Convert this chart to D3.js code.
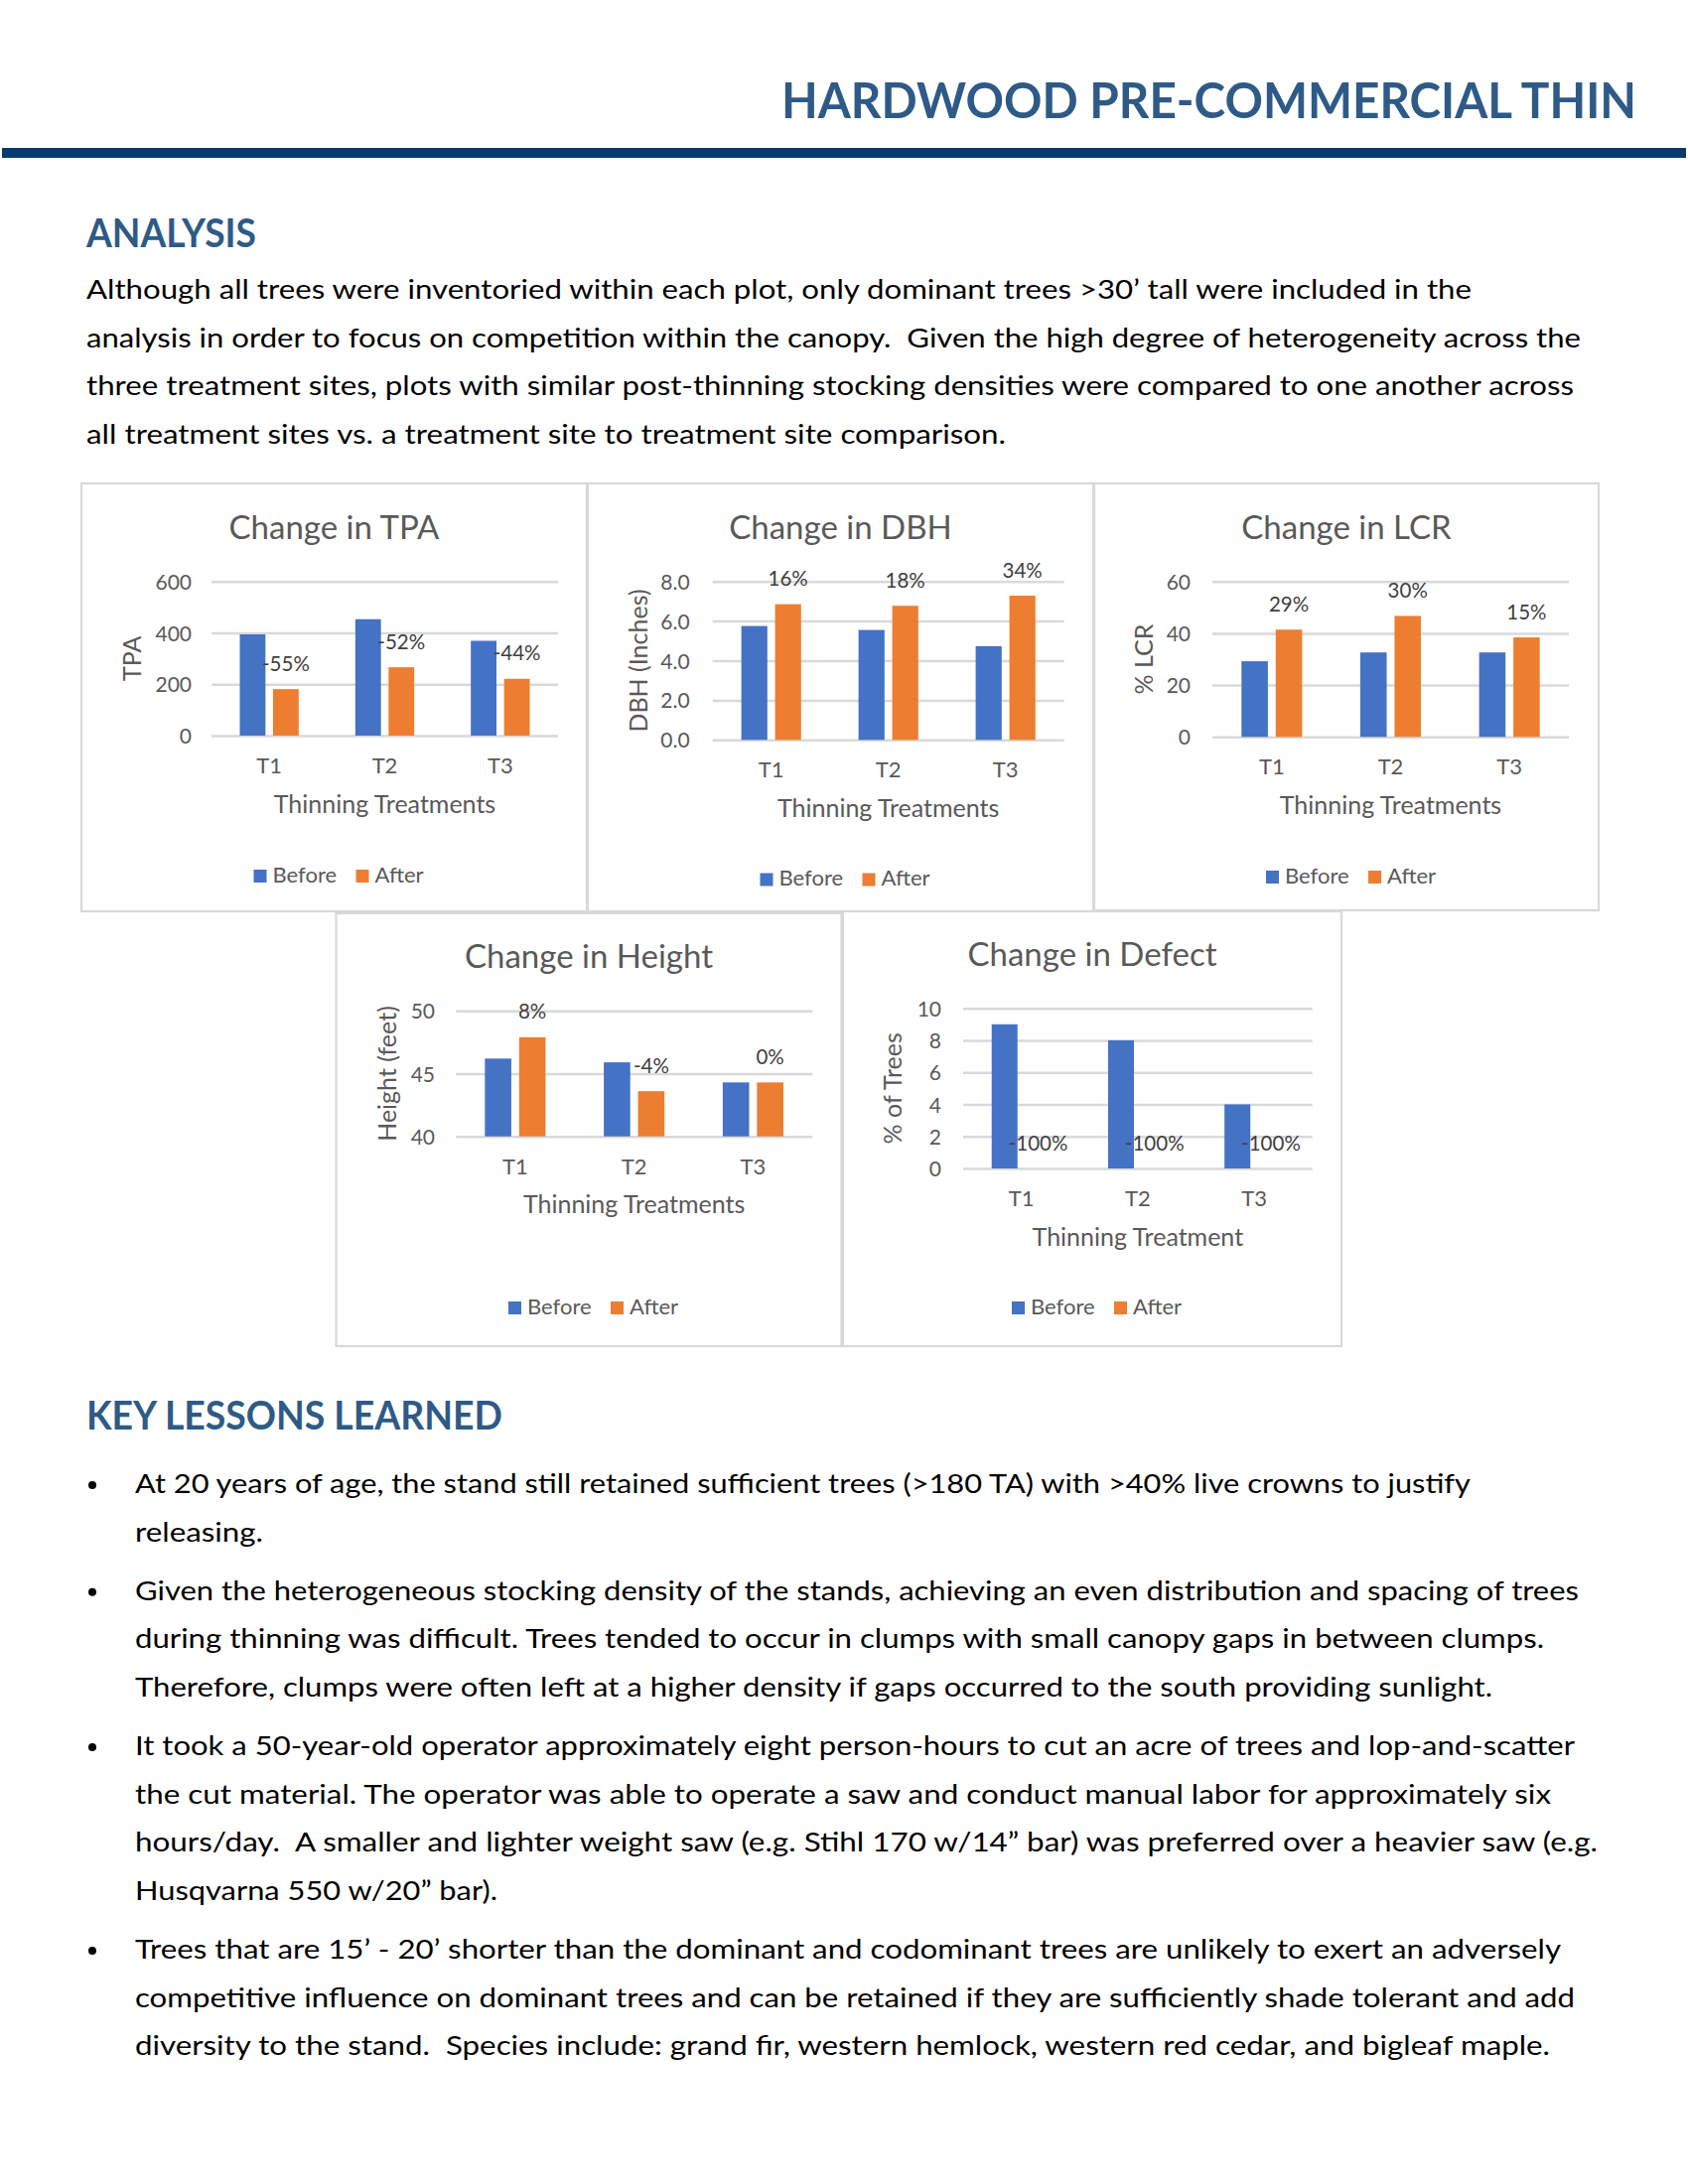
<!DOCTYPE html>
<html>
<head>
<meta charset="utf-8">
<script src="https://cdn.jsdelivr.net/npm/d3@7"></script>
<style>
  html, body { margin: 0; padding: 0; background: #fff; }
  svg { display: block; }
</style>
</head>
<body>
<div id="page"></div>
<script>
// ---------------- DATA ----------------
const categories = ["T1", "T2", "T3"];
const seriesNames = ["Before", "After"];

const tpaBefore = [394, 453, 369];
const tpaAfter = [181, 266, 221];
const tpaLabels = ["-55%", "-52%", "-44%"];
const tpaTicks = [0, 200, 400, 600];

const dbhBefore = [5.75, 5.55, 4.73];
const dbhAfter = [6.85, 6.77, 7.28];
const dbhLabels = ["16%", "18%", "34%"];
const dbhTicks = [0, 2, 4, 6, 8];

const lcrBefore = [29.2, 32.6, 32.6];
const lcrAfter = [41.4, 46.7, 38.4];
const lcrLabels = ["29%", "30%", "15%"];
const lcrTicks = [0, 20, 40, 60];

const heightBefore = [46.2, 45.9, 44.3];
const heightAfter = [47.9, 43.6, 44.3];
const heightLabels = ["8%", "-4%", "0%"];
const heightTicks = [40, 45, 50];

const defectBefore = [9, 8, 4];
const defectAfter = [0, 0, 0];
const defectLabels = ["-100%", "-100%", "-100%"];
const defectTicks = [0, 2, 4, 6, 8, 10];

const pageTitle = "HARDWOOD PRE-COMMERCIAL THIN";
const analysisHeading = "ANALYSIS";
const analysisLines = [
  "Although all trees were inventoried within each plot, only dominant trees >30’ tall were included in the",
  "analysis in order to focus on competition within the canopy.  Given the high degree of heterogeneity across the",
  "three treatment sites, plots with similar post-thinning stocking densities were compared to one another across",
  "all treatment sites vs. a treatment site to treatment site comparison."
];
const lessonsHeading = "KEY LESSONS LEARNED";
const lessons = [
  ["At 20 years of age, the stand still retained sufficient trees (>180 TA) with >40% live crowns to justify",
   "releasing."],
  ["Given the heterogeneous stocking density of the stands, achieving an even distribution and spacing of trees",
   "during thinning was difficult. Trees tended to occur in clumps with small canopy gaps in between clumps.",
   "Therefore, clumps were often left at a higher density if gaps occurred to the south providing sunlight."],
  ["It took a 50-year-old operator approximately eight person-hours to cut an acre of trees and lop-and-scatter",
   "the cut material. The operator was able to operate a saw and conduct manual labor for approximately six",
   "hours/day.  A smaller and lighter weight saw (e.g. Stihl 170 w/14” bar) was preferred over a heavier saw (e.g.",
   "Husqvarna 550 w/20” bar)."],
  ["Trees that are 15’ - 20’ shorter than the dominant and codominant trees are unlikely to exert an adversely",
   "competitive influence on dominant trees and can be retained if they are sufficiently shade tolerant and add",
   "diversity to the stand.  Species include: grand fir, western hemlock, western red cedar, and bigleaf maple."]
];

// ---------------- LAYOUT ----------------
const W = 1700, H = 2200;
const BLUE = "#4472C4", ORANGE = "#ED7D31";
const HEAD = "#2E5A87", RULE = "#083B6D";
const TXT = "#595959", LBL = "#404040", GRID = "#D9D9D9";
const FONT = "Lato, 'Open Sans', sans-serif";

const analysisWidths = [1395, 1505, 1498, 926];
const lessonsWidths = [[1345, 129], [1454, 1419, 1367], [1450, 1426, 1473, 365], [1436, 1450, 1425]];

const charts = [
  { title: "Change in TPA", yTitle: "TPA", xTitle: "Thinning Treatments",
    before: tpaBefore, after: tpaAfter, labels: tpaLabels, ticks: tpaTicks, domain: [0, 600], fmt: d3.format("d"),
    panel: { x: 82, y: 487, w: 509, h: 431 }, plot: { x0: 213, x1: 562, y0: 585.7, y1: 741 },
    tickPad: 20, yTitleX: 133, legendY: 876 },
  { title: "Change in DBH", yTitle: "DBH (Inches)", xTitle: "Thinning Treatments",
    before: dbhBefore, after: dbhAfter, labels: dbhLabels, ticks: dbhTicks, domain: [0, 8], fmt: d3.format(".1f"),
    panel: { x: 592, y: 487, w: 509, h: 431 }, plot: { x0: 717.7, x1: 1071.7, y0: 585.7, y1: 745.3 },
    tickPad: 23, yTitleX: 643, legendY: 879.5 },
  { title: "Change in LCR", yTitle: "% LCR", xTitle: "Thinning Treatments",
    before: lcrBefore, after: lcrAfter, labels: lcrLabels, ticks: lcrTicks, domain: [0, 60], fmt: d3.format("d"),
    panel: { x: 1102, y: 487, w: 508, h: 430 }, plot: { x0: 1221, x1: 1580, y0: 585.7, y1: 742.3 },
    tickPad: 22, yTitleX: 1152, legendY: 877 },
  { title: "Change in Height", yTitle: "Height (feet)", xTitle: "Thinning Treatments",
    before: heightBefore, after: heightAfter, labels: heightLabels, ticks: heightTicks, domain: [40, 50], fmt: d3.format("d"),
    panel: { x: 338.5, y: 920, w: 509, h: 436 }, plot: { x0: 459, x1: 818.3, y0: 1018.3, y1: 1144.7 },
    tickPad: 21, yTitleX: 390, legendY: 1311 },
  { title: "Change in Defect", yTitle: "% of Trees", xTitle: "Thinning Treatment",
    before: defectBefore, after: defectAfter, labels: defectLabels, ticks: defectTicks, domain: [0, 10], fmt: d3.format("d"),
    panel: { x: 849, y: 918, w: 502, h: 438 }, plot: { x0: 970, x1: 1321.7, y0: 1015.7, y1: 1177 },
    tickPad: 22, yTitleX: 899, legendY: 1311 }
];

// ---------------- DRAW ----------------
const svg = d3.select("#page").append("svg")
  .attr("width", W).attr("height", H).attr("viewBox", `0 0 ${W} ${H}`)
  .style("font-family", FONT);

svg.append("rect").attr("width", W).attr("height", H).attr("fill", "#fff");

// Header
svg.append("text")
  .attr("x", 1648).attr("y", 118.5).attr("text-anchor", "end")
  .attr("fill", HEAD).attr("font-weight", 700).attr("font-size", 50)
  .attr("textLength", 861).attr("lengthAdjust", "spacingAndGlyphs")
  .text(pageTitle);
svg.append("rect").attr("x", 2).attr("y", 149).attr("width", 1696).attr("height", 10).attr("fill", RULE);

// Analysis heading + text
svg.append("text")
  .attr("x", 87).attr("y", 249).attr("fill", HEAD).attr("font-weight", 700).attr("font-size", 39.5)
  .attr("textLength", 171).attr("lengthAdjust", "spacingAndGlyphs")
  .text(analysisHeading);

const LINE = 48.6, PARA = 59.1;
svg.append("g").selectAll("text").data(analysisLines).join("text")
  .attr("x", 87).attr("y", (d, i) => 301 + i * LINE)
  .attr("fill", "#000").attr("font-size", 27.5)
  .style("white-space", "pre")
  .attr("textLength", (d, i) => analysisWidths[i]).attr("lengthAdjust", "spacingAndGlyphs")
  .text(d => d);

// Charts
charts.forEach(c => {
  const g = svg.append("g");
  g.append("rect")
    .attr("x", c.panel.x).attr("y", c.panel.y).attr("width", c.panel.w).attr("height", c.panel.h)
    .attr("fill", "#fff").attr("stroke", GRID).attr("stroke-width", 2.2);

  const x = d3.scaleBand().domain(categories).range([c.plot.x0, c.plot.x1]).padding(0);
  const y = d3.scaleLinear().domain(c.domain).range([c.plot.y1, c.plot.y0]);
  const pw = c.plot.x1 - c.plot.x0;

  // grid + y axis
  const ya = g.append("g").attr("transform", `translate(${c.plot.x0},0)`)
    .call(d3.axisLeft(y).tickValues(c.ticks).tickSize(-pw).tickPadding(c.tickPad).tickFormat(c.fmt));
  ya.select(".domain").remove();
  ya.selectAll(".tick line").attr("stroke", GRID).attr("stroke-width", 2.5);
  ya.selectAll(".tick text").attr("fill", TXT).attr("font-size", 21).attr("font-family", FONT).attr("dy", "0.36em");

  // bars
  const bw = x.bandwidth() * 0.222, gap = x.bandwidth() * 0.066;
  const cx = d => x(d) + x.bandwidth() / 2;
  const base = y(c.domain[0]);
  g.append("g").selectAll("rect").data(categories).join("rect")
    .attr("x", d => cx(d) - gap / 2 - bw).attr("width", bw)
    .attr("y", (d, i) => y(c.before[i])).attr("height", (d, i) => base - y(c.before[i]))
    .attr("fill", BLUE);
  g.append("g").selectAll("rect").data(categories).join("rect")
    .attr("x", d => cx(d) + gap / 2).attr("width", bw)
    .attr("y", (d, i) => y(c.after[i])).attr("height", (d, i) => base - y(c.after[i]))
    .attr("fill", ORANGE);

  // data labels
  g.append("g").selectAll("text").data(categories).join("text")
    .attr("x", d => cx(d) + gap / 2 + bw / 2)
    .attr("y", (d, i) => y(c.after[i]) - 18.5)
    .attr("text-anchor", "middle").attr("fill", LBL).attr("font-size", 20.5)
    .text((d, i) => c.labels[i]);

  // x axis
  const xa = g.append("g").attr("transform", `translate(0,${c.plot.y1})`)
    .call(d3.axisBottom(x).tickSize(0).tickPadding(0));
  xa.select(".domain").remove();
  xa.selectAll(".tick text").attr("dy", null).attr("y", 38)
    .attr("fill", TXT).attr("font-size", 22).attr("font-family", FONT);

  // axis titles
  g.append("text")
    .attr("x", (c.plot.x0 + c.plot.x1) / 2).attr("y", c.plot.y1 + 77.5)
    .attr("text-anchor", "middle").attr("fill", TXT).attr("font-size", 25)
    .text(c.xTitle);
  g.append("text")
    .attr("transform", `translate(${c.yTitleX},${(c.plot.y0 + c.plot.y1) / 2}) rotate(-90)`)
    .attr("text-anchor", "middle").attr("dy", "0.35em").attr("fill", TXT).attr("font-size", 25)
    .text(c.yTitle);

  // chart title
  g.append("text")
    .attr("x", c.panel.x + c.panel.w / 2).attr("y", c.plot.y0 - 43)
    .attr("text-anchor", "middle").attr("fill", TXT).attr("font-size", 33)
    .text(c.title);

  // legend
  const pcx = c.panel.x + c.panel.w / 2;
  const leg = g.append("g");
  const legX = [-81, 22];
  seriesNames.forEach((s, i) => {
    leg.append("rect").attr("x", pcx + legX[i]).attr("y", c.legendY).attr("width", 13).attr("height", 13)
      .attr("fill", i === 0 ? BLUE : ORANGE);
    leg.append("text").attr("x", pcx + legX[i] + 19).attr("y", c.legendY + 12.5)
      .attr("fill", TXT).attr("font-size", 22).text(s);
  });
});

// Key lessons
svg.append("text")
  .attr("x", 87).attr("y", 1440).attr("fill", HEAD).attr("font-weight", 700).attr("font-size", 39.5)
  .attr("textLength", 419).attr("lengthAdjust", "spacingAndGlyphs")
  .text(lessonsHeading);

let yy = 1504;
lessons.forEach((para, pi) => {
  svg.append("circle").attr("cx", 93).attr("cy", yy - 8).attr("r", 4).attr("fill", "#000");
  para.forEach((line, li) => {
    svg.append("text")
      .attr("x", 136).attr("y", yy)
      .attr("fill", "#000").attr("font-size", 27.5)
      .style("white-space", "pre")
      .attr("textLength", lessonsWidths[pi][li]).attr("lengthAdjust", "spacingAndGlyphs")
      .text(line);
    if (li < para.length - 1) yy += LINE;
  });
  yy += PARA;
});
</script>
</body>
</html>
